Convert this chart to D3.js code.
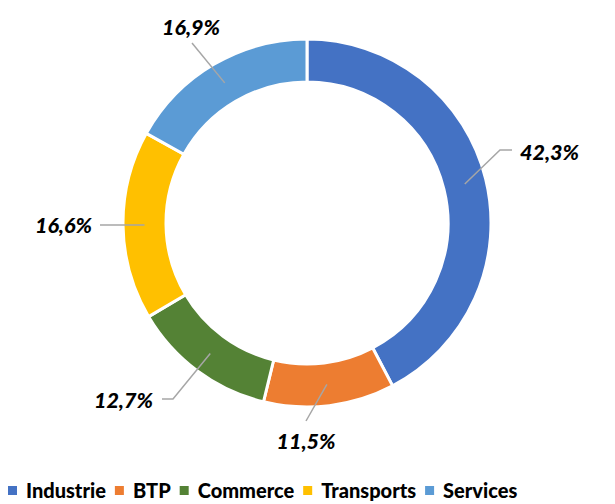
<!DOCTYPE html>
<html>
<head>
<meta charset="utf-8">
<script src="https://cdn.jsdelivr.net/npm/d3@7"></script>
<style>
  body { margin: 0; background: #fff; }
  text { font-family: Lato, "Open Sans", sans-serif; }
</style>
</head>
<body>
<div id="chart"></div>
<script>
var categories = ["Industrie", "BTP", "Commerce", "Transports", "Services"];
var values = [42.3, 11.5, 12.7, 16.6, 16.9];
var labels = ["42,3%", "11,5%", "12,7%", "16,6%", "16,9%"];
var colors = ["#4472C4", "#ED7D31", "#548235", "#FFC000", "#5B9BD5"];

var width = 615, height = 504;
var cx = 307, cy = 223, outer = 184, inner = 141;

// leader line layout (relative to centre): elbow, end, text anchor
var leaders = [
  {pts: [[193, -73], [205, -73]], tx: 213, ty: -71, anchor: "start"},
  {pts: [[-1, 198]], tx: -1, ty: 218, anchor: "middle"},
  {pts: [[-134, 176], [-145, 176]], tx: -154, ty: 177, anchor: "end"},
  {pts: [[-207, 2]], tx: -215, ty: 2, anchor: "end"},
  {pts: [[-115, -180]], tx: -116, ty: -196, anchor: "middle"}
];

var svg = d3.select("#chart").append("svg")
    .attr("width", width)
    .attr("height", height);

var g = svg.append("g")
    .attr("transform", "translate(" + cx + "," + cy + ")");

var pie = d3.pie().sort(null).value(function(d) { return d; });
var arcs = pie(values);

var arc = d3.arc().innerRadius(inner).outerRadius(outer);
var mid = d3.arc().innerRadius((inner + outer) / 2).outerRadius((inner + outer) / 2);

g.selectAll("path.slice")
    .data(arcs)
    .enter().append("path")
    .attr("class", "slice")
    .attr("d", arc)
    .attr("fill", function(d, i) { return colors[i]; })
    .attr("stroke", "#fff")
    .attr("stroke-width", 3);

var line = d3.line();

g.selectAll("path.leader")
    .data(arcs)
    .enter().append("path")
    .attr("class", "leader")
    .attr("d", function(d, i) { return line([mid.centroid(d)].concat(leaders[i].pts)); })
    .attr("fill", "none")
    .attr("stroke", "#A6A6A6")
    .attr("stroke-width", 1.5);

g.selectAll("text.lbl")
    .data(arcs)
    .enter().append("text")
    .attr("class", "lbl")
    .attr("x", function(d, i) { return leaders[i].tx; })
    .attr("y", function(d, i) { return leaders[i].ty; })
    .attr("dy", "0.35em")
    .attr("text-anchor", function(d, i) { return leaders[i].anchor; })
    .style("font-size", "21.5px")
    .style("font-weight", "900")
    .style("font-style", "italic")
    .attr("fill", "#000")
    .text(function(d, i) { return labels[i]; });

// legend, laid out left to right
var legend = svg.append("g").attr("transform", "translate(8,491)");
var xpos = 0;
categories.forEach(function(c, i) {
  var item = legend.append("g").attr("transform", "translate(" + xpos + ",0)");
  item.append("rect")
      .attr("x", 0).attr("y", -5)
      .attr("width", 9).attr("height", 9)
      .attr("fill", colors[i]);
  var t = item.append("text")
      .attr("x", 18)
      .attr("y", 0)
      .attr("dy", "0.35em")
      .style("font-size", "20px")
      .style("font-weight", "900")
      .attr("fill", "#000")
      .text(c);
  xpos += 18 + t.node().getComputedTextLength() + 9;
});
</script>
</body>
</html>
